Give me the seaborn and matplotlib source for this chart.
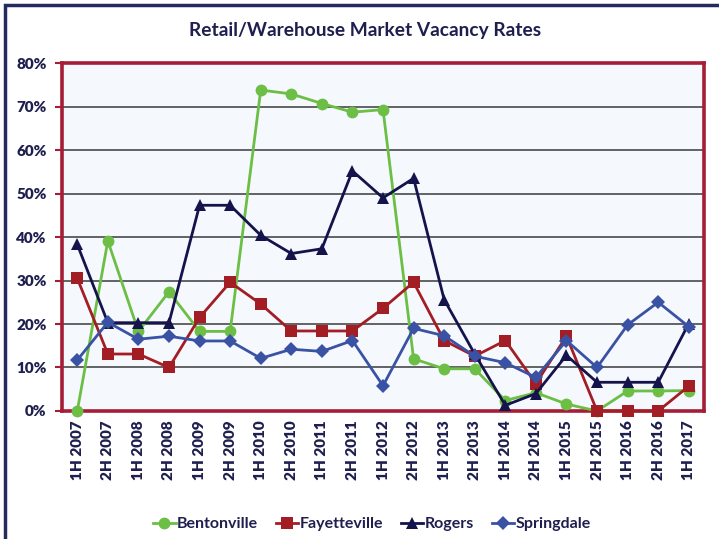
import pandas as pd
import matplotlib.pyplot as plt
import seaborn as sns
from matplotlib.patches import Rectangle
from matplotlib.ticker import PercentFormatter

# Half-year periods on the x axis
periods = ['1H 2007', '2H 2007', '1H 2008', '2H 2008', '1H 2009', '2H 2009',
           '1H 2010', '2H 2010', '1H 2011', '2H 2011', '1H 2012', '2H 2012',
           '1H 2013', '2H 2013', '1H 2014', '2H 2014', '1H 2015', '2H 2015',
           '1H 2016', '2H 2016', '1H 2017']

# Vacancy rates (%)
bentonville = [0.0, 39.1, 18.3, 27.4, 18.3, 18.3, 73.8, 72.9, 70.7, 68.7, 69.3, 12.0,
               9.7, 9.7, 2.4, 4.2, 1.6, 0.0, 4.6, 4.6, 4.7]
fayetteville = [30.5, 13.1, 13.1, 10.0, 21.5, 29.6, 24.6, 18.4, 18.4, 18.4, 23.6, 29.6,
                16.2, 12.6, 16.2, 6.3, 17.2, 0.0, 0.0, 0.0, 5.7]
rogers = [38.3, 20.3, 20.3, 20.3, 47.3, 47.3, 40.4, 36.2, 37.3, 55.2, 49.0, 53.5,
          25.6, 13.1, 1.3, 4.0, 12.8, 6.6, 6.6, 6.6, 20.1]
springdale = [11.7, 20.4, 16.5, 17.2, 16.1, 16.1, 12.1, 14.2, 13.7, 16.2, 5.8, 19.0,
              17.3, 12.6, 11.1, 7.7, 16.2, 10.0, 19.8, 25.0, 19.4]

cities = ['Bentonville', 'Fayetteville', 'Rogers', 'Springdale']
colors = ['#6CBE45', '#A31D24', '#15134B', '#3A52A4']
markers = ['o', 's', '^', 'D']
msizes = [8.5, 8, 8.5, 7]

navy = '#1F1F4F'
font = 'Lato'

df = pd.DataFrame({'x': list(range(len(periods))) * 4,
                   'rate': bentonville + fayetteville + rogers + springdale,
                   'city': [c for c in cities for _ in periods]})

fig = plt.figure(figsize=(7.19, 5.39), dpi=100)
ax = fig.add_axes([0.0862, 0.2375, 0.893, 0.6455])
ax.set_facecolor('#F5F9FE')

for city, col, mk, ms in zip(cities, colors, markers, msizes):
    sub = df[df['city'] == city]
    sns.lineplot(data=sub, x='x', y='rate', ax=ax, color=col, marker=mk,
                 markersize=ms, markeredgewidth=0, linewidth=2, label=city,
                 zorder=3, clip_on=False)

ax.set_xlim(-0.5, len(periods) - 0.5)
ax.set_ylim(0, 80)
ax.set_yticks(range(0, 81, 10))
ax.yaxis.set_major_formatter(PercentFormatter(decimals=0))
ax.set_xticks(range(len(periods)))
ax.set_xticklabels(periods, rotation=90)
ax.set_xlabel('')
ax.set_ylabel('')
ax.grid(axis='y', color='#3A3A3A', linewidth=1.1, zorder=1)
ax.set_axisbelow(True)

for s in ax.spines.values():
    s.set_color('#A51E36')
    s.set_linewidth(2.6)
    s.set_zorder(2)

ax.tick_params(axis='y', colors='#A51E36', length=5, width=1.5, labelcolor=navy,
               labelsize=11, pad=6)
ax.tick_params(axis='x', length=0, labelcolor=navy, labelsize=11, pad=7)
for lab in ax.get_xticklabels() + ax.get_yticklabels():
    lab.set_fontweight('heavy')
    lab.set_family(font)

fig.text(0.508, 0.944, 'Retail/Warehouse Market Vacancy Rates', ha='center', va='center',
         fontsize=13.8, fontweight='bold', color=navy, family=font)

leg = ax.legend(loc='center', bbox_to_anchor=(0.483, -0.325), ncol=4, frameon=False,
                handlelength=1.4, handletextpad=0.1, columnspacing=1.1,
                prop={'weight': 'bold', 'size': 11.5, 'family': font})
for t in leg.get_texts():
    t.set_color(navy)

# outer chart frame (left and top edges visible)
fig.add_artist(Rectangle((5 / 719, -0.1), 1.2, 1 - 5 / 539 + 0.1, transform=fig.transFigure,
                         fill=False, edgecolor='#262B5E', linewidth=2.5))

fig.savefig('out.png', dpi=100)
